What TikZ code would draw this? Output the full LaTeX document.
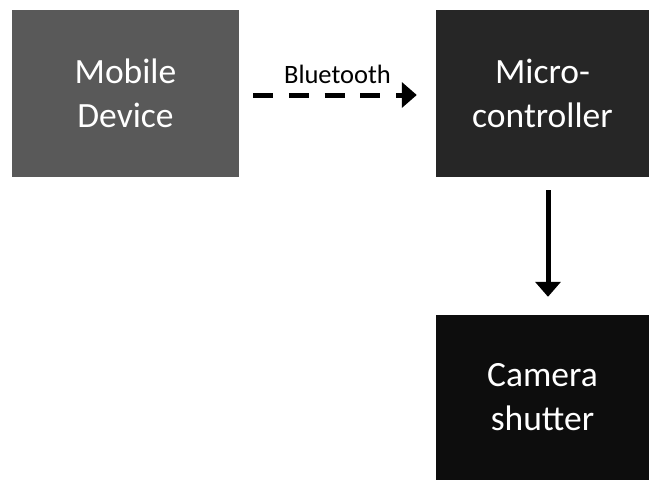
\documentclass[tikz,border=0pt]{standalone}
\usepackage{fontspec}
\setmainfont{Carlito}
\usetikzlibrary{arrows.meta}
\definecolor{boxA}{HTML}{595959}
\definecolor{boxB}{HTML}{262626}
\definecolor{boxC}{HTML}{0D0D0D}
\tikzset{
  blockbox/.style={rectangle, inner sep=0pt, text=white, align=center,
    font=\fontsize{35.5}{44}\selectfont},
  conn/.style={line width=5pt, -{Triangle[length=15pt,width=25pt]}},
}
\begin{document}
\begin{tikzpicture}[x=1pt,y=-1pt]
\useasboundingbox (0,0) rectangle (649,480);
\node[blockbox, fill=boxA, minimum width=227pt, minimum height=167pt] (md) at (125.5,93.5) {Mobile\\Device};
\node[blockbox, fill=boxB, minimum width=213pt, minimum height=167pt] (mc) at (542.5,93.5) {Micro-\\controller};
\node[blockbox, fill=boxC, minimum width=213pt, minimum height=165pt] (cs) at (542.5,397.5) {Camera\\shutter};
\draw[conn, dash pattern=on 20pt off 15.7pt, shorten <=14pt, shorten >=19pt]
  ([yshift=-1.5pt]md.east) -- node[above=5pt, font=\fontsize{26.5}{30}\selectfont] (bt) {Bluetooth} ([yshift=-1.5pt]mc.west);
\draw[conn, shorten <=13pt, shorten >=18pt] ([xshift=5.5pt]mc.south) -- ([xshift=5.5pt]cs.north);
\end{tikzpicture}
\end{document}
